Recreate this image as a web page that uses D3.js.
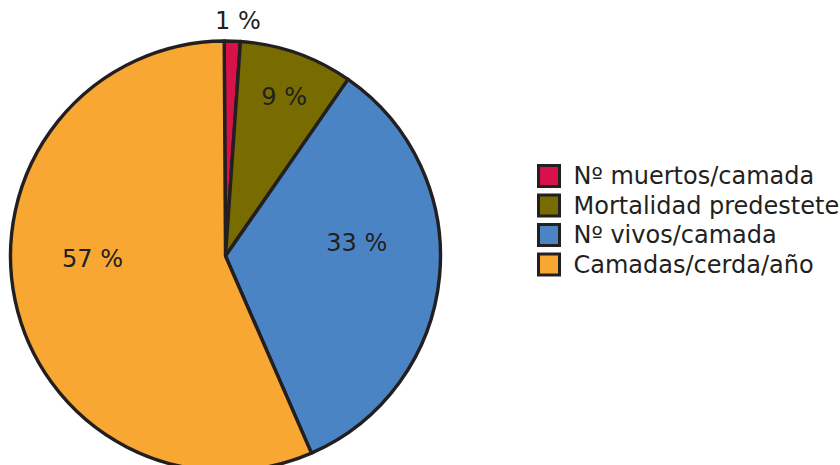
<!DOCTYPE html>
<html>
<head>
<meta charset="utf-8">
<script src="https://cdn.jsdelivr.net/npm/d3@7"></script>
<style>
  body { margin: 0; background: #fff; }
  text { font-family: "DejaVu Sans", Verdana, sans-serif; fill: #231f20; }
</style>
</head>
<body>
<svg id="chart"></svg>
<script>
// data

var categories = ["Nº muertos/camada", "Mortalidad predestete", "Nº vivos/camada", "Camadas/cerda/año"];
var values = [1.2, 8.55, 33.8, 56.45];
var labels = ["1 %", "9 %", "33 %", "57 %"];
var colors = ["#d7124a", "#786b00", "#4a84c4", "#f8a732"];

// svg params

var svgWidth = 840, svgHeight = 465;
var cx = 225.5, cy = 256, radius = 215;
var ink = "#231f20";
var fontSize = 24;

// label placement (radius, angle nudge in degrees) per slice
var labelLayout = [[236, 1.2], [170, 0.8], [132, -11.5], [133, 11]];

var svg = d3.select("#chart")
    .attr("width", svgWidth)
    .attr("height", svgHeight);

var pie = d3.pie().sort(null).value(function (d) { return d; })
    .startAngle(-0.006).endAngle(2 * Math.PI - 0.006);
var arcs = pie(values);

var arc = d3.arc().innerRadius(0).outerRadius(radius);

var g = svg.append("g")
    .attr("transform", "translate(" + [cx, cy] + ")");

g.selectAll("path")
    .data(arcs)
    .enter()
    .append("path")
    .attr("d", arc)
    .attr("fill", function (d, i) { return colors[i]; })
    .attr("stroke", ink)
    .attr("stroke-width", 3.4)
    .attr("stroke-linejoin", "round");

// slice labels
g.selectAll("text.lbl")
    .data(arcs)
    .enter()
    .append("text")
    .attr("class", "lbl")
    .attr("transform", function (d, i) {
      var a = (d.startAngle + d.endAngle) / 2 + labelLayout[i][1] * Math.PI / 180;
      var r = labelLayout[i][0];
      return "translate(" + [r * Math.sin(a), -r * Math.cos(a)] + ")";
    })
    .attr("text-anchor", "middle")
    .attr("dy", "0.35em")
    .attr("font-size", fontSize)
    .text(function (d, i) { return labels[i]; });

// legend
var legend = svg.append("g")
    .attr("transform", "translate(538.5,165.5)");

var rows = legend.selectAll("g")
    .data(categories)
    .enter()
    .append("g")
    .attr("transform", function (d, i) { return "translate(0," + (i * 29.5) + ")"; });

rows.append("rect")
    .attr("width", 21)
    .attr("height", 21)
    .attr("fill", function (d, i) { return colors[i]; })
    .attr("stroke", ink)
    .attr("stroke-width", 3);

rows.append("text")
    .attr("x", 35)
    .attr("y", 10.5)
    .attr("dy", "0.35em")
    .attr("font-size", fontSize)
    .text(function (d) { return d; });
</script>
</body>
</html>
